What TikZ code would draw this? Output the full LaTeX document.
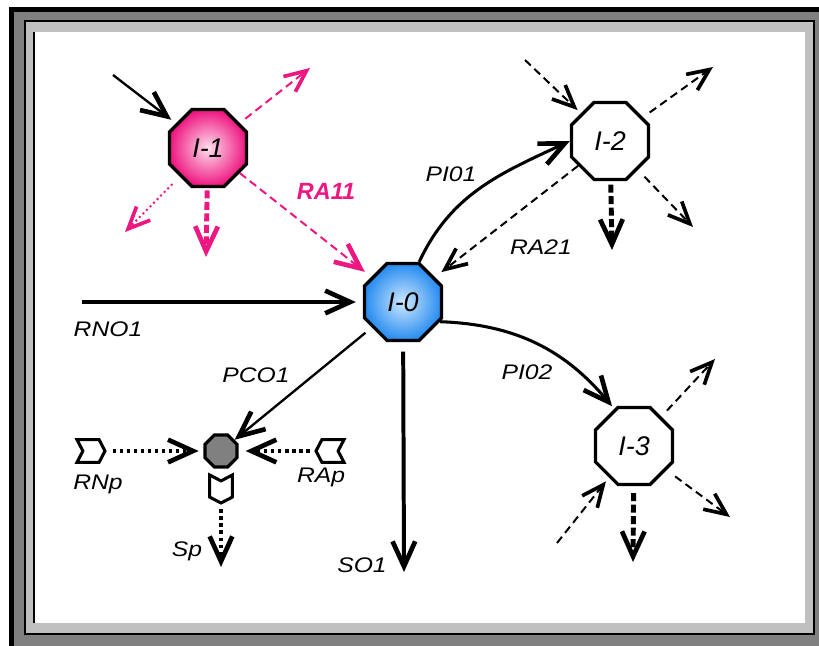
\documentclass[tikz,border=0pt]{standalone}
\usepackage{fontspec}
\setmainfont{Liberation Sans}
\newfontfamily\lblfont{Liberation Sans}[FakeStretch=1.17]
\usetikzlibrary{arrows.meta,shapes.geometric,shapes.symbols}
\definecolor{rapink}{RGB}{238,22,128}
\definecolor{framegray}{RGB}{128,128,128}
\definecolor{bevelgray}{RGB}{192,192,192}

\begin{document}
\begin{tikzpicture}[x=0.03cm,y=0.03cm,
    bighead/.style={-{Straight Barb[length=7.5mm,width=6.8mm,line width=1.4mm]}},
    smallhead/.style={-{Straight Barb[length=6.5mm,width=5.8mm,line width=1.1mm]}},
    state/.style={regular polygon,regular polygon sides=8,draw,line width=2.8pt,
        minimum size=2.5cm,inner sep=0pt,font=\itshape\fontsize{23}{26}\selectfont},
    port/.style={signal,signal from=west,signal to=east,signal pointer angle=125,draw,fill=white,
        line width=2.6pt,inner sep=0pt,minimum width=0.84cm,minimum height=0.68cm},
    lbl/.style={inner sep=0pt,anchor=base,font=\lblfont\itshape\fontsize{18}{20}\selectfont},
    thindash/.style={line width=1.7pt,dash pattern=on 6.8pt off 4.2pt},
    thickdash/.style={line width=4.2pt,dash pattern=on 6.8pt off 3pt},
    dots/.style={line width=3.4pt,dash pattern=on 3pt off 3pt}]

    \useasboundingbox (0,0) rectangle (819,645);
    \clip (0,0) rectangle (819,645);
    % bevelled frame
    \fill[black] (9,-20) rectangle (840,638);
    \fill[framegray] (14,-20) rectangle (840,633);
    \fill[black] (24,10) rectangle (815,625);
    \fill[bevelgray] (26,12) rectangle (813,623);
    \fill[black] (33,22) rectangle (805,613);
    \fill[white] (35,22) rectangle (805,613);

    \node[state,shading=radial,inner color={rgb,255:red,205;green,232;blue,255},
        outer color={rgb,255:red,40;green,140;blue,240}] (I0) at (403,343) {I-0};
    \node[state,shading=radial,inner color={rgb,255:red,255;green,222;blue,238},
        outer color=rapink] (I1) at (208,497) {I-1};
    \node[state,fill=white] (I2) at (610,504) {I-2};
    \node[state,fill=white] (I3) at (634,199) {I-3};
    \node[state,fill=framegray,minimum size=1.04cm] (P) at (221,194) {};

    \node[port] (RNp) at (91,194) {};
    \node[port,rotate=180] (RAp) at (330,194) {};
    \node[port,rotate=-90] (Sp) at (221,156) {};

    \coordinate (a1) at (113,570);
    \coordinate (b1) at (310,577);
    \coordinate (c1) at (125,413);
    \coordinate (d1) at (206,388);
    \coordinate (i2a) at (525,585);
    \coordinate (i2b) at (713,578);
    \coordinate (i2c) at (612,395);
    \coordinate (i2d) at (693,418);
    \coordinate (i3a) at (715,286);
    \coordinate (i3b) at (730,128);
    \coordinate (i3c) at (557,102);
    \coordinate (i3d) at (633,83);
    \coordinate (rno) at (82,343);
    \coordinate (so) at (404,73);
    \coordinate (sp) at (221,78);

    % around I-1
    \draw[line width=2pt,bighead,shorten >=5pt] (a1) -- (I1);
    \draw[rapink,thindash,smallhead,shorten <=6pt] (I1) -- (b1);
    \draw[rapink,line width=1.7pt,dash pattern=on 1.7pt off 2.6pt,smallhead,shorten <=9pt] (I1) -- (c1);
    \draw[rapink,thickdash,bighead,shorten <=2pt] (I1) -- (d1);
    \draw[rapink,thindash,bighead,shorten >=7pt] (I1) -- (I0);

    % around I-2
    \draw[thindash,smallhead,shorten >=4pt] (i2a) -- (I2);
    \draw[thindash,smallhead,shorten <=7pt] (I2) -- (i2b);
    \draw[thickdash,bighead,shorten <=3pt] (I2) -- (i2c);
    \draw[thindash,smallhead,shorten <=8pt] (I2) -- (i2d);
    \draw[thindash,smallhead,shorten >=7pt] (I2) -- (I0);

    % I-0
    \draw[line width=3.4pt,bighead,shorten >=6pt] (rno) -- (I0);
    \draw[line width=3.4pt,bighead,shorten <=8pt] (I0) -- (so);
    \draw[line width=2pt,bighead,shorten <=7pt] (I0) -- (P);
    \draw[line width=2.6pt,bighead] (I0.68) to[out=65,in=205] (I2.west);
    \draw[line width=2.6pt,bighead,shorten >=3pt] (I0.-28) to[out=-2,in=130] (I3.118);

    % around I-3
    \draw[thindash,smallhead,shorten <=7pt] (I3) -- (i3a);
    \draw[thindash,smallhead,shorten <=9pt] (I3) -- (i3b);
    \draw[thindash,smallhead,shorten >=4pt] (i3c) -- (I3);
    \draw[thickdash,bighead,shorten <=6pt] (I3) -- (i3d);

    % ports
    \draw[dots,bighead,shorten <=5pt,shorten >=4pt] (RNp) -- (P);
    \draw[dots,bighead,shorten <=4pt,shorten >=6pt] (RAp) -- (P);
    \draw[dots,bighead,shorten <=4pt] (Sp) -- (sp);

    \node[lbl,rapink,font=\bfseries\itshape\fontsize{20}{24}\selectfont] (ra11) at (326,445) {RA11};
    \node[lbl] (pi01) at (451,463) {PI01};
    \node[lbl] (ra21) at (541,390) {RA21};
    \node[lbl] (rno1) at (108,308) {RNO1};
    \node[lbl] (pco1) at (256,262) {PCO1};
    \node[lbl] (pi02) at (527,265) {PI02};
    \node[lbl] (so1) at (362,73) {SO1};
    \node[lbl] (rnp) at (98,155) {RNp};
    \node[lbl] (rap) at (321,162) {RAp};
    \node[lbl] (spl) at (187,89) {Sp};
\end{tikzpicture}
\end{document}
